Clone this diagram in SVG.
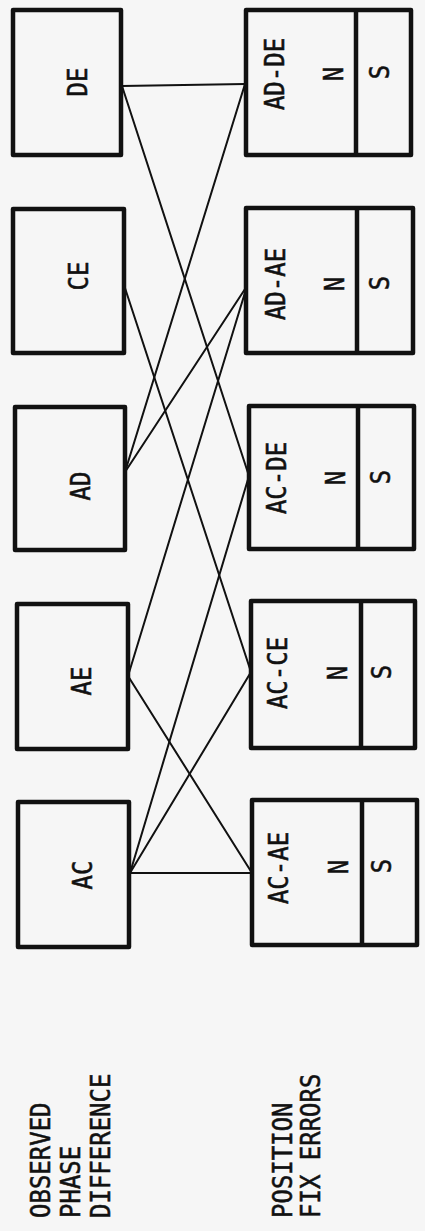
<svg xmlns="http://www.w3.org/2000/svg" width="425" height="1231" viewBox="0 0 425 1231">
  <style>
    .box { fill: none; stroke: #111; stroke-width: 4.5; stroke-linejoin: round; }
    .div { stroke: #111; stroke-width: 4.5; }
    .conn { stroke: #111; stroke-width: 2; fill: none; stroke-linecap: round; }
    text { font-family: "DejaVu Sans Mono", "Liberation Mono", monospace; font-size: 24px; fill: #111; stroke: #111; stroke-width: 0.5; }
    .c { text-anchor: middle; }
  </style>
  <rect x="0" y="0" width="425" height="1231" fill="#f6f6f6"/>

  <g id="headers">
    <text transform="translate(50,1218) rotate(-90) scale(1,1.12)">OBSERVED</text>
    <text transform="translate(80,1218) rotate(-90) scale(1,1.12)">PHASE</text>
    <text transform="translate(110,1218) rotate(-90) scale(1,1.12)">DIFFERENCE</text>
    <text transform="translate(292,1218) rotate(-90) scale(1,1.12)">POSITION</text>
    <text transform="translate(320,1218) rotate(-90) scale(1,1.12)">FIX ERRORS</text>
  </g>

  <g id="connectors">
    <line class="conn" x1="122" y1="86" x2="245" y2="84"/>
    <line class="conn" x1="122" y1="86" x2="249" y2="476"/>
    <line class="conn" x1="124" y1="285" x2="251" y2="672"/>
    <line class="conn" x1="125" y1="472" x2="245" y2="84"/>
    <line class="conn" x1="125" y1="472" x2="247" y2="286"/>
    <line class="conn" x1="128" y1="676" x2="247" y2="286"/>
    <line class="conn" x1="128" y1="676" x2="252" y2="873"/>
    <line class="conn" x1="130" y1="873" x2="252" y2="873"/>
    <line class="conn" x1="130" y1="873" x2="251" y2="672"/>
    <line class="conn" x1="130" y1="873" x2="249" y2="476"/>
  </g>

  <g id="DE">
    <rect class="box" x="13" y="10" width="108" height="145"/>
    <text class="c" transform="translate(87,82) rotate(-90) scale(1,1.12)">DE</text>
  </g>
  <g id="CE">
    <rect class="box" x="13" y="209" width="111" height="144"/>
    <text class="c" transform="translate(88,276) rotate(-90) scale(1,1.12)">CE</text>
  </g>
  <g id="AD">
    <rect class="box" x="15" y="407" width="110" height="143"/>
    <text class="c" transform="translate(90,486) rotate(-90) scale(1,1.12)">AD</text>
  </g>
  <g id="AE">
    <rect class="box" x="17" y="604" width="111" height="145"/>
    <text class="c" transform="translate(91,681) rotate(-90) scale(1,1.12)">AE</text>
  </g>
  <g id="AC">
    <rect class="box" x="18" y="802" width="111" height="145"/>
    <text class="c" transform="translate(92,875) rotate(-90) scale(1,1.12)">AC</text>
  </g>

  <g id="AD-DE">
    <rect class="box" x="246" y="10" width="165" height="145"/>
    <line class="div" x1="356" y1="10" x2="356" y2="155"/>
    <text class="c" transform="translate(284,74) rotate(-90) scale(1,1.12)">AD-DE</text>
    <text class="c" transform="translate(343,74) rotate(-90) scale(1,1.12)">N</text>
    <text class="c" transform="translate(389,72) rotate(-90) scale(1,1.12)">S</text>
  </g>
  <g id="AD-AE">
    <rect class="box" x="246" y="208" width="167" height="145"/>
    <line class="div" x1="357" y1="208" x2="357" y2="353"/>
    <text class="c" transform="translate(285,284) rotate(-90) scale(1,1.12)">AD-AE</text>
    <text class="c" transform="translate(344,284) rotate(-90) scale(1,1.12)">N</text>
    <text class="c" transform="translate(389,283) rotate(-90) scale(1,1.12)">S</text>
  </g>
  <g id="AC-DE">
    <rect class="box" x="249" y="406" width="165" height="143"/>
    <line class="div" x1="358" y1="406" x2="358" y2="549"/>
    <text class="c" transform="translate(286,478) rotate(-90) scale(1,1.12)">AC-DE</text>
    <text class="c" transform="translate(345,478) rotate(-90) scale(1,1.12)">N</text>
    <text class="c" transform="translate(390,477) rotate(-90) scale(1,1.12)">S</text>
  </g>
  <g id="AC-CE">
    <rect class="box" x="251" y="601" width="164" height="147"/>
    <line class="div" x1="361" y1="601" x2="361" y2="748"/>
    <text class="c" transform="translate(287,673) rotate(-90) scale(1,1.12)">AC-CE</text>
    <text class="c" transform="translate(347,673) rotate(-90) scale(1,1.12)">N</text>
    <text class="c" transform="translate(391,672) rotate(-90) scale(1,1.12)">S</text>
  </g>
  <g id="AC-AE">
    <rect class="box" x="252" y="800" width="165" height="145"/>
    <line class="div" x1="362" y1="800" x2="362" y2="945"/>
    <text class="c" transform="translate(288,868) rotate(-90) scale(1,1.12)">AC-AE</text>
    <text class="c" transform="translate(348,867) rotate(-90) scale(1,1.12)">N</text>
    <text class="c" transform="translate(391,866) rotate(-90) scale(1,1.12)">S</text>
  </g>
</svg>
